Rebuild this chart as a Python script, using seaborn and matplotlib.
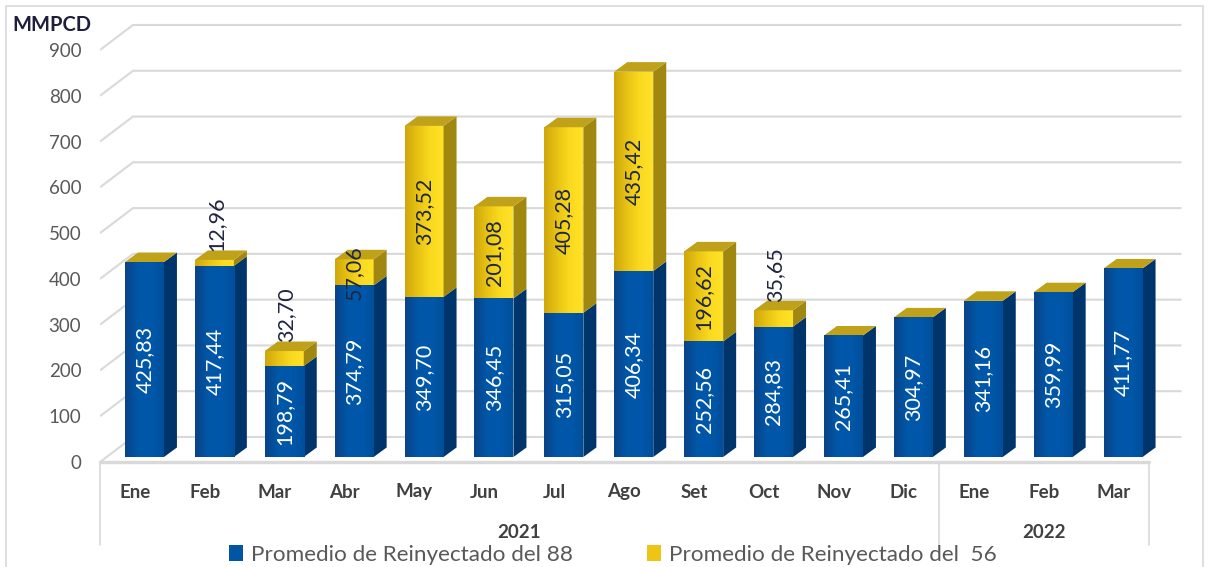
import numpy as np
import pandas as pd
import matplotlib
matplotlib.use("Agg")
import matplotlib.pyplot as plt
from matplotlib.patches import Polygon, Patch, Rectangle
from matplotlib.colors import LinearSegmentedColormap
import seaborn as sns

# ---------------- data ----------------
months = ["Ene", "Feb", "Mar", "Abr", "May", "Jun", "Jul", "Ago", "Set", "Oct", "Nov", "Dic",
          "Ene", "Feb", "Mar"]
years = ["2021"] * 12 + ["2022"] * 3
reiny_88 = [425.83, 417.44, 198.79, 374.79, 349.70, 346.45, 315.05, 406.34, 252.56, 284.83,
            265.41, 304.97, 341.16, 359.99, 411.77]
reiny_56 = [0, 12.96, 32.70, 57.06, 373.52, 201.08, 405.28, 435.42, 196.62, 35.65,
            0, 0, 0, 0, 0]
series_names = ["Promedio de Reinyectado del 88", "Promedio de Reinyectado del  56"]
y_ticks = [0, 100, 200, 300, 400, 500, 600, 700, 800, 900]
unit_label = "MMPCD"


def fmt(v):
    return f"{v:.2f}".replace(".", ",")


df = pd.DataFrame({
    "periodo": [f"{m}-{y}" for m, y in zip(months, years)],
    "mes": months,
    "anio": years,
    "r88": reiny_88,
    "r56": reiny_56,
})
df["total"] = df["r88"] + df["r56"]

# ---------------- style ----------------
sns.set_theme(style="white")
plt.rcParams["font.family"] = ["Lato", "DejaVu Sans"]

W, H = 1209, 567
fig = plt.figure(figsize=(W / 100, H / 100), dpi=100)

PX_CAT = 69.9          # pixels per category
PX_VAL = 0.4578        # pixels per value unit
ax_left, ax_right, ax_top, ax_bot = 100, 1190, 15, 462
ax = fig.add_axes([ax_left / W, 1 - ax_bot / H, (ax_right - ax_left) / W, (ax_bot - ax_top) / H])
XL = (-0.5, -0.5 + (ax_right - ax_left) / PX_CAT)
YL = (0, (ax_bot - ax_top) / PX_VAL)

# 3D geometry (in data units)
wall_dx, wall_dy = 33 / PX_CAT, 25 / PX_VAL
bar_off_x, bar_off_y = 9.5 / PX_CAT, 5 / PX_VAL
bar_dx, bar_dy = 13 / PX_CAT, 9.5 / PX_VAL
bar_w = 39 / PX_CAT

grid_c = "#D9D9D9"
# gridlines (left wall diagonal + back wall)
for v in y_ticks:
    ax.plot([-0.5, -0.5 + wall_dx, 14.5 + wall_dx], [v, v + wall_dy, v + wall_dy],
            color=grid_c, lw=1.5, zorder=0, solid_capstyle="butt")
# floor front edge
ax.plot([-0.5, 14.5], [0, 0], color=grid_c, lw=2.5, zorder=0, clip_on=False)

# ---------------- bars (seaborn) ----------------
yellow_front = "#F0C814"
blue_front = "#0055A5"
sns.barplot(data=df, x="periodo", y="total", order=list(df["periodo"]), color=yellow_front,
            width=bar_w, saturation=1, ax=ax, zorder=2)
n_y = len(ax.patches)
sns.barplot(data=df, x="periodo", y="r88", order=list(df["periodo"]), color=blue_front,
            width=bar_w, saturation=1, ax=ax, zorder=3)
yellow_patches = ax.patches[:n_y]
blue_patches = ax.patches[n_y:]

cm_blue = LinearSegmentedColormap.from_list("b", ["#0A4388", "#0057A8", "#0058AA", "#004F9C"])
cm_yel = LinearSegmentedColormap.from_list("y", ["#CFA70C", "#E8C314", "#FADA1E", "#FFE128"])
grad = np.linspace(0, 1, 64).reshape(1, -1)

for p in list(yellow_patches) + list(blue_patches):
    p.set_x(p.get_x() + bar_off_x)
    p.set_y(bar_off_y)
    p.set_edgecolor("none")
    p.set_linewidth(0)

side_blue, side_yel, top_yel = "#00356C", "#A08810", "#BFA11A"
for i, (pb, py) in enumerate(zip(blue_patches, yellow_patches)):
    xl = pb.get_x()
    xr = xl + pb.get_width()
    b0 = bar_off_y
    b1 = bar_off_y + pb.get_height()
    t = bar_off_y + py.get_height()
    # gradients on front faces
    for patch, cmap, lo, hi, z in ((py, cm_yel, b1, t, 2.1), (pb, cm_blue, b0, b1, 3.1)):
        if hi - lo > 0:
            im = ax.imshow(grad, cmap=cmap, aspect="auto", extent=(xl, xr, lo, hi),
                           zorder=z, interpolation="bilinear")
            im.set_clip_path(patch)
    # side faces
    ax.add_patch(Polygon([(xr, b0), (xr + bar_dx, b0 + bar_dy), (xr + bar_dx, b1 + bar_dy), (xr, b1)],
                         closed=True, facecolor=side_blue, edgecolor="none", zorder=3))
    if t - b1 > 0:
        ax.add_patch(Polygon([(xr, b1), (xr + bar_dx, b1 + bar_dy), (xr + bar_dx, t + bar_dy), (xr, t)],
                             closed=True, facecolor=side_yel, edgecolor="none", zorder=3))
    # top face
    ax.add_patch(Polygon([(xl, t), (xl + bar_dx, t + bar_dy), (xr + bar_dx, t + bar_dy), (xr, t)],
                         closed=True, facecolor=top_yel, edgecolor="none", zorder=3))

    # labels
    xc = (xl + xr) / 2
    v88 = df["r88"].iloc[i]
    v56 = df["r56"].iloc[i]
    ax.text(xc, (b0 + b1) / 2, fmt(v88), rotation=90, ha="center", va="center",
            color="white", fontsize=15.5, zorder=5)
    if v56 > 0:
        if v56 >= 50:
            ax.text(xc, (b1 + t) / 2, fmt(v56), rotation=90, ha="center", va="center",
                    color="#1E2640", fontsize=15.5, zorder=5)
        else:
            ax.text(xc + 0.03, t + bar_dy - 2, fmt(v56), rotation=90, ha="center", va="bottom",
                    color="#1E2640", fontsize=15.5, zorder=5)

ax.set_xlim(*XL)
ax.set_ylim(*YL)
for s in ax.spines.values():
    s.set_visible(False)
ax.set_xlabel("")
ax.set_ylabel("")
ax.set_xticks([])
ax.set_yticks(y_ticks)
ax.set_yticklabels([str(v) for v in y_ticks])
ax.tick_params(axis="y", length=0, pad=13.5, labelsize=13.5, labelcolor="#595959")

# category axis
lab_c = "#404040"
for i, m in enumerate(months):
    ax.text(i, -30 / PX_VAL, m, ha="center", va="center", fontsize=13.5, fontweight="bold",
            color=lab_c, clip_on=False)
year_groups = df.groupby("anio", sort=False).apply(lambda g: (g.index.min(), g.index.max()),
                                                   include_groups=False)
sep_bottom = -83 / PX_VAL
for yr, (i0, i1) in year_groups.items():
    ax.text((i0 + i1) / 2, -70 / PX_VAL, yr, ha="center", va="center", fontsize=13.5,
            fontweight="bold", color=lab_c, clip_on=False)
    ax.plot([i0 - 0.5, i0 - 0.5], [0, sep_bottom], color=grid_c, lw=1.2, clip_on=False)
ax.plot([14.5, 14.5], [0, sep_bottom], color=grid_c, lw=1.2, clip_on=False)

# unit label
fig.text(12 / W, 1 - 25 / H, unit_label, ha="left", va="center", fontsize=14.5,
         fontweight="bold", color="#1F1F3D")

# legend
handles = [Patch(facecolor="#0055A5", edgecolor="none"), Patch(facecolor="#EEC515", edgecolor="none")]
fig.legend(handles, series_names, loc="center", bbox_to_anchor=(613 / W, 1 - 555 / H),
           ncol=2, frameon=False, fontsize=16.2, handlelength=0.62, handleheight=0.68,
           handletextpad=0.36, columnspacing=3.3, labelcolor="#595959", borderpad=0)

# outer border
fig.add_artist(Rectangle((6 / W, -0.05), (W - 12) / W, 1.05 - 6 / H, transform=fig.transFigure,
                         fill=False, edgecolor="#D9D9D9", lw=1.2))

fig.savefig("out.png", dpi=100)
